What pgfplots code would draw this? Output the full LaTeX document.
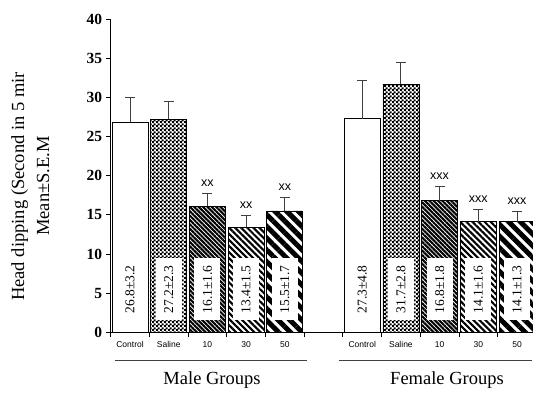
\documentclass[border=0pt]{standalone}
\usepackage{fontspec}
\setmainfont{Liberation Serif}
\newfontfamily\sansf{Liberation Sans}
\usepackage{pgfplots}
\pgfplotsset{compat=1.18}
\usetikzlibrary{patterns,patterns.meta}
\pgfdeclarepatternformonly{checker}{\pgfqpoint{0pt}{0pt}}{\pgfqpoint{4pt}{4pt}}{\pgfqpoint{4pt}{4pt}}{%
  \pgfpathrectangle{\pgfqpoint{0pt}{0pt}}{\pgfqpoint{2.4pt}{2.4pt}}%
  \pgfpathrectangle{\pgfqpoint{2pt}{2pt}}{\pgfqpoint{2.4pt}{2.4pt}}%
  \pgfusepath{fill}}
\begin{document}
\begin{tikzpicture}
\useasboundingbox (0pt,0pt) rectangle (533pt,394pt);
\begin{axis}[
  at={(110.65pt,61.7pt)}, anchor=south west,
  scale only axis, width=422.35pt, height=313.2pt,
  xmin=-0.5, xmax=10.413, ymin=0, ymax=40,
  axis lines*=left,
  axis line style={line width=1pt, black},
  ytick={0,5,...,40},
  xtick={-0.5,0.5,...,9.5},
  xticklabels={},
  extra x ticks={0,1,2,3,4,6,7,8,9,10},
  extra x tick labels={Control,Saline,10,30,50,Control,Saline,10,30,50},
  extra x tick style={tick style={draw=none}},
  tick align=outside, major tick length=5pt,
  tick style={black, line width=0.8pt},
  /pgf/number format/assume math mode=true,
  yticklabel style={font=\fontsize{15.5}{17}\selectfont\bfseries},
  xticklabel style={font=\sansf\fontsize{8.5}{10}\selectfont, yshift=-1pt},
]
\addplot[ybar, bar width=36pt, bar shift=0pt, draw=black, line width=0.8pt, fill=white,
  error bars/.cd, y dir=plus, y explicit,
  error bar style={line width=1pt, black!75},
  error mark options={rotate=90, mark size=5pt, line width=1pt, black!75}]
  coordinates {(0,26.8) +- (0,3.2) (6,27.3) +- (0,4.8)};
\addplot[ybar, bar width=36pt, bar shift=0pt, draw=black, line width=0.8pt, pattern=checker, pattern color=black,
  error bars/.cd, y dir=plus, y explicit,
  error bar style={line width=1pt, black!75},
  error mark options={rotate=90, mark size=5pt, line width=1pt, black!75}]
  coordinates {(1,27.2) +- (0,2.3) (7,31.7) +- (0,2.8)};
\addplot[ybar, bar width=36pt, bar shift=0pt, draw=black, line width=0.8pt,
  pattern={Lines[angle=-45, distance=3.1pt, line width=2.1pt]}, pattern color=black,
  error bars/.cd, y dir=plus, y explicit,
  error bar style={line width=1pt, black!75},
  error mark options={rotate=90, mark size=5pt, line width=1pt, black!75}]
  coordinates {(2,16.1) +- (0,1.6) (8,16.8) +- (0,1.8)};
\addplot[ybar, bar width=36pt, bar shift=0pt, draw=black, line width=0.8pt,
  pattern={Lines[angle=-45, distance=4.3pt, line width=2.1pt]}, pattern color=black,
  error bars/.cd, y dir=plus, y explicit,
  error bar style={line width=1pt, black!75},
  error mark options={rotate=90, mark size=5pt, line width=1pt, black!75}]
  coordinates {(3,13.4) +- (0,1.5) (9,14.1) +- (0,1.6)};
\addplot[ybar, bar width=36pt, bar shift=0pt, draw=black, line width=0.8pt,
  pattern={Lines[angle=-45, distance=8.3pt, line width=5pt]}, pattern color=black,
  error bars/.cd, y dir=plus, y explicit,
  error bar style={line width=1pt, black!75},
  error mark options={rotate=90, mark size=5pt, line width=1pt, black!75}]
  coordinates {(4,15.5) +- (0,1.7) (10,14.1) +- (0,1.3)};
% value labels
\tikzset{vl/.style={rotate=90, fill=white, inner sep=0pt, minimum width=62pt, minimum height=26pt, font=\fontsize{13.5}{15}\selectfont}}
\node[vl] at (axis cs:0,5.5) {26.8±3.2};
\node[vl] at (axis cs:1,5.5) {27.2±2.3};
\node[vl] at (axis cs:2,5.5) {16.1±1.6};
\node[vl] at (axis cs:3,5.5) {13.4±1.5};
\node[vl] at (axis cs:4,5.5) {15.5±1.7};
\node[vl] at (axis cs:6,5.5) {27.3±4.8};
\node[vl] at (axis cs:7,5.5) {31.7±2.8};
\node[vl] at (axis cs:8,5.5) {16.8±1.8};
\node[vl] at (axis cs:9,5.5) {14.1±1.6};
\node[vl] at (axis cs:10,5.5) {14.1±1.3};
% significance marks
\tikzset{sg/.style={anchor=base, inner sep=0pt, yshift=7pt, font=\sansf\fontsize{12.5}{14}\selectfont}}
\node[sg] at (axis cs:2,17.7) {xx};
\node[sg] at (axis cs:3,14.9) {xx};
\node[sg] at (axis cs:4,17.2) {xx};
\node[sg] at (axis cs:8,18.6) {xxx};
\node[sg] at (axis cs:9,15.7) {xxx};
\node[sg] at (axis cs:10,15.4) {xxx};
\end{axis}
\draw[line width=0.8pt, black!75] (115pt,33.5pt) -- (307pt,33.5pt);
\draw[line width=0.8pt, black!75] (339pt,33.5pt) -- (532pt,33.5pt);
\node[anchor=base, font=\fontsize{18.5}{20}\selectfont] at (212pt,10pt) {Male Groups};
\node[anchor=base, font=\fontsize{18.5}{20}\selectfont] at (447pt,10pt) {Female Groups};
\node[rotate=90, anchor=base, font=\fontsize{18.5}{20}\selectfont] at (24pt,207.5pt) {Head dipping (Second in 5 mir};
\node[rotate=90, anchor=base, font=\fontsize{18.5}{20}\selectfont] at (49pt,208pt) {Mean±S.E.M};
\end{tikzpicture}
\end{document}
